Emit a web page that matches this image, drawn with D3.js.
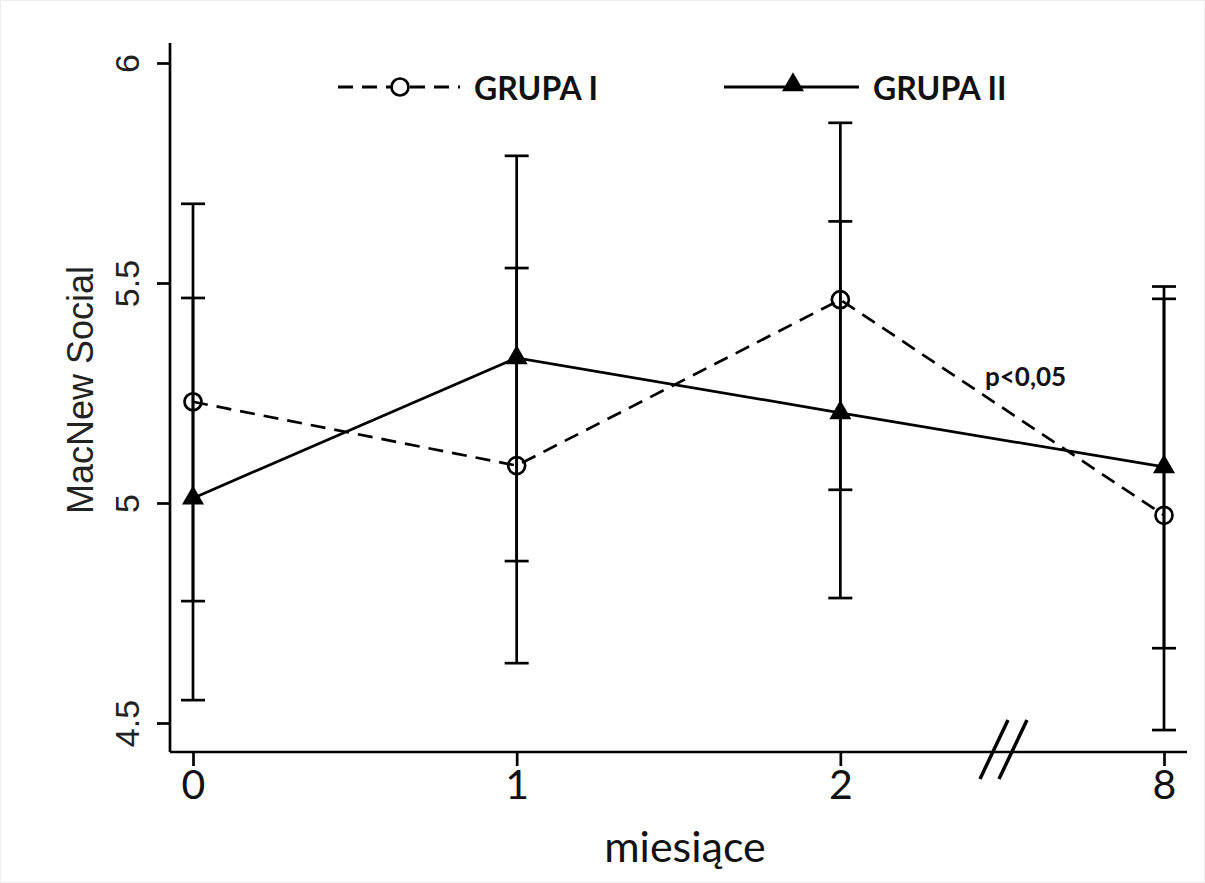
<!DOCTYPE html>
<html>
<head>
    <meta charset="utf-8">
    <title>MacNew Social</title>
    <script src="https://d3js.org/d3.v7.min.js"></script>
    <style>
        body {
            margin: 0;
            padding: 0;
            background: #ffffff;
            overflow: hidden;
        }
        .tick-y text { font-family: "Liberation Sans", Arial, sans-serif; }
        .tick-x text { font-family: Lato, "Open Sans", sans-serif; }
    </style>
</head>
<body>
    <div id="chart"></div>
    <script>
        // months (category axis, with a break between 2 and 8)
        const months = ['0', '1', '2', '8'];
        const yTicks = [4.5, 5, 5.5, 6];

        // GRUPA I (dashed, open circle)
        const grupa1Mean = [5.23, 5.085, 5.462, 4.972];
        const grupa1Low  = [4.777, 4.636, 5.03, 4.484];
        const grupa1High = [5.68, 5.534, 5.864, 5.464];

        // GRUPA II (solid, filled triangle)
        const grupa2Mean = [5.011, 5.33, 5.205, 5.082];
        const grupa2Low  = [4.552, 4.868, 4.784, 4.67];
        const grupa2High = [5.466, 5.789, 5.64, 5.492];

        const width = 1205;
        const height = 883;
        const sw = 2.7;

        const svg = d3.select('#chart')
            .append('svg')
            .attr('width', width)
            .attr('height', height);

        svg.append('rect')
            .attr('x', 0.5).attr('y', 0.5)
            .attr('width', width - 1).attr('height', height - 1)
            .attr('fill', '#fff')
            .attr('stroke', '#eeeeee');

        const x = d3.scalePoint()
            .domain(months)
            .range([193, 1164]);

        const y = d3.scaleLinear()
            .domain([4.5, 6])
            .range([723, 63]);

        const axisX0 = 170;   // y axis position
        const axisY0 = 752;   // x axis position

        // y axis
        const yAxis = svg.append('g')
            .attr('class', 'tick-y')
            .attr('transform', `translate(${axisX0},0)`)
            .call(d3.axisLeft(y).tickValues(yTicks).tickSize(13).tickSizeOuter(0).tickFormat(d3.format('')));
        yAxis.select('.domain').remove();
        yAxis.selectAll('line').attr('stroke', '#000').attr('stroke-width', sw);
        yAxis.selectAll('text')
            .attr('font-size', 34)
            .attr('fill', '#222')
            .attr('x', 0).attr('dy', 0)
            .attr('text-anchor', 'middle')
            .attr('transform', 'translate(-43,0) rotate(-90)')
            .attr('dominant-baseline', 'central');

        svg.append('line')
            .attr('x1', axisX0).attr('x2', axisX0)
            .attr('y1', 43).attr('y2', axisY0)
            .attr('stroke', '#000').attr('stroke-width', sw);

        // x axis
        const xAxis = svg.append('g')
            .attr('class', 'tick-x')
            .attr('transform', `translate(0,${axisY0})`)
            .call(d3.axisBottom(x).tickSize(14).tickSizeOuter(0).tickPadding(4));
        xAxis.select('.domain').remove();
        xAxis.selectAll('line').attr('stroke', '#000').attr('stroke-width', sw);
        xAxis.selectAll('text')
            .attr('font-size', 41)
            .attr('fill', '#111');

        svg.append('line')
            .attr('x1', axisX0).attr('x2', 1187)
            .attr('y1', axisY0).attr('y2', axisY0)
            .attr('stroke', '#000').attr('stroke-width', sw);

        // axis break marks
        [[980, 1008], [999, 1027]].forEach(([a, b]) => {
            svg.append('line')
                .attr('x1', a).attr('y1', 779)
                .attr('x2', b).attr('y2', 720)
                .attr('stroke', '#000').attr('stroke-width', 3.5);
        });

        // axis titles
        svg.append('text')
            .attr('transform', 'translate(80,390) rotate(-90)')
            .attr('text-anchor', 'middle')
            .attr('dominant-baseline', 'central')
            .attr('font-family', '"Liberation Sans", Arial, sans-serif')
            .attr('font-size', 36)
            .attr('fill', '#222')
            .text('MacNew Social');

        svg.append('text')
            .attr('x', 685).attr('y', 862)
            .attr('text-anchor', 'middle')
            .attr('font-family', 'Lato, sans-serif')
            .attr('font-size', 43)
            .attr('fill', '#111')
            .text('miesiące');

        // error bars (both groups share the same x)
        function errorBars(low, high) {
            const g = svg.append('g');
            months.forEach((m, i) => {
                const cx = x(m);
                g.append('line')
                    .attr('x1', cx).attr('x2', cx)
                    .attr('y1', y(low[i])).attr('y2', y(high[i]))
                    .attr('stroke', '#000').attr('stroke-width', sw);
                [low[i], high[i]].forEach(v => {
                    g.append('line')
                        .attr('x1', cx - 12).attr('x2', cx + 12)
                        .attr('y1', y(v)).attr('y2', y(v))
                        .attr('stroke', '#000').attr('stroke-width', sw);
                });
            });
        }
        errorBars(grupa1Low, grupa1High);
        errorBars(grupa2Low, grupa2High);

        const line = d3.line()
            .x((d, i) => x(months[i]))
            .y(d => y(d));

        svg.append('path')
            .datum(grupa1Mean)
            .attr('d', line)
            .attr('fill', 'none')
            .attr('stroke', '#000')
            .attr('stroke-width', sw)
            .attr('stroke-dasharray', '15,9');

        svg.append('path')
            .datum(grupa2Mean)
            .attr('d', line)
            .attr('fill', 'none')
            .attr('stroke', '#000')
            .attr('stroke-width', sw);

        // markers
        svg.append('g')
            .selectAll('circle')
            .data(grupa1Mean)
            .join('circle')
            .attr('cx', (d, i) => x(months[i]))
            .attr('cy', d => y(d))
            .attr('r', 8.5)
            .attr('fill', 'none')
            .attr('stroke', '#000')
            .attr('stroke-width', sw);

        const tri = d3.symbol().type(d3.symbolTriangle).size(210);
        svg.append('g')
            .selectAll('path')
            .data(grupa2Mean)
            .join('path')
            .attr('d', tri)
            .attr('transform', (d, i) => `translate(${x(months[i])},${y(d)})`)
            .attr('fill', '#000');

        // annotation
        svg.append('text')
            .attr('x', 985).attr('y', 386)
            .attr('font-family', 'Lato, sans-serif')
            .attr('font-weight', 'bold')
            .attr('font-size', 26)
            .attr('fill', '#111')
            .text('p<0,05');

        // legend
        const legendY = 87;
        svg.append('line')
            .attr('x1', 338).attr('x2', 460)
            .attr('y1', legendY).attr('y2', legendY)
            .attr('stroke', '#000').attr('stroke-width', 3)
            .attr('stroke-dasharray', '15,9');
        svg.append('circle')
            .attr('cx', 400).attr('cy', legendY).attr('r', 8.5)
            .attr('fill', '#fff').attr('stroke', '#000').attr('stroke-width', sw);
        svg.append('text')
            .attr('x', 474).attr('y', legendY)
            .attr('dominant-baseline', 'central')
            .attr('font-family', 'Lato, sans-serif')
            .attr('font-weight', 'bold')
            .attr('font-size', 32)
            .attr('fill', '#111')
            .text('GRUPA I');

        svg.append('line')
            .attr('x1', 724).attr('x2', 859)
            .attr('y1', legendY).attr('y2', legendY)
            .attr('stroke', '#000').attr('stroke-width', 3);
        svg.append('path')
            .attr('d', tri)
            .attr('transform', `translate(793,${legendY - 2})`)
            .attr('fill', '#000');
        svg.append('text')
            .attr('x', 873).attr('y', legendY)
            .attr('dominant-baseline', 'central')
            .attr('font-family', 'Lato, sans-serif')
            .attr('font-weight', 'bold')
            .attr('font-size', 32)
            .attr('fill', '#111')
            .text('GRUPA II');
    </script>
</body>
</html>
